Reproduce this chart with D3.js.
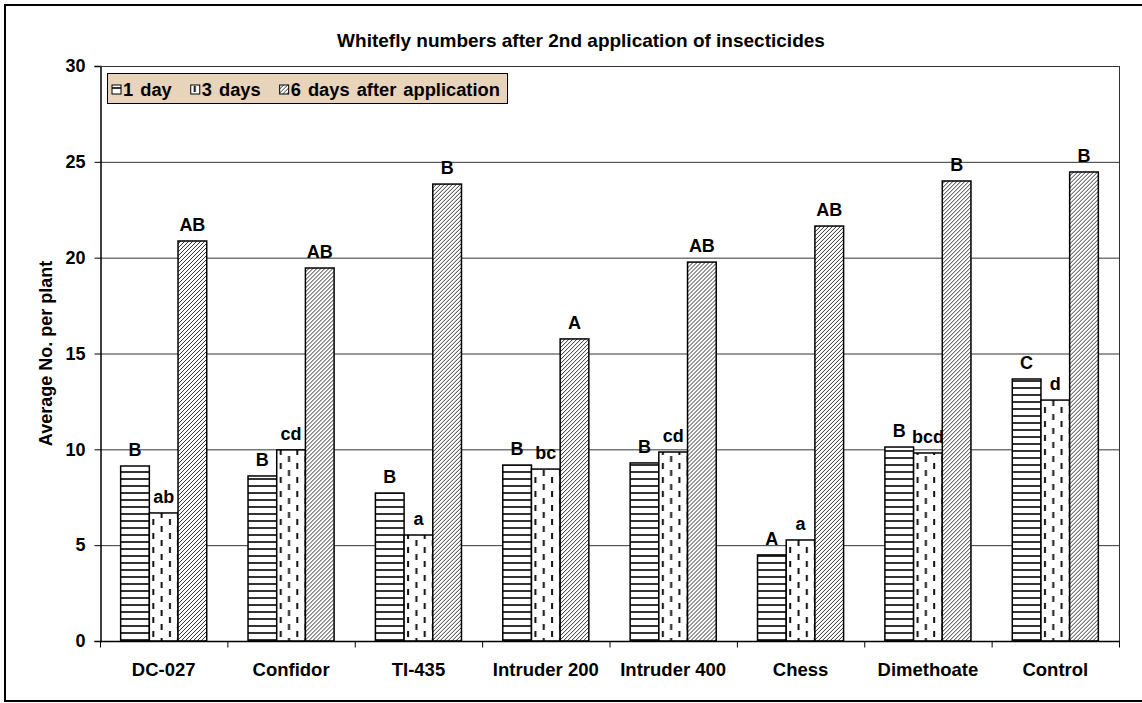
<!DOCTYPE html>
<html>
<head>
<meta charset="utf-8">
<script src="https://cdn.jsdelivr.net/npm/d3@7"></script>
<style>
  body { margin: 0; background: #fff; }
  text { font-family: "Liberation Sans", Arial, sans-serif; font-weight: bold; fill: #000; }
</style>
</head>
<body>
<div id="chart"></div>
<script>
const categories = ["DC-027", "Confidor", "TI-435", "Intruder 200", "Intruder 400", "Chess", "Dimethoate", "Control"];
const seriesNames = ["1 day", "3 days", "6 days after application"];
const day1 = [9.13, 8.61, 7.72, 9.18, 9.29, 4.49, 10.12, 13.67];
const day3 = [6.68, 9.97, 5.53, 8.97, 9.86, 5.27, 9.81, 12.57];
const day6 = [20.87, 19.46, 23.84, 15.76, 19.77, 21.65, 24.0, 24.47];
const letters1 = ["B", "B", "B", "B", "B", "A", "B", "C"];
const letters3 = ["ab", "cd", "a", "bc", "cd", "a", "bcd", "d"];
const letters6 = ["AB", "AB", "B", "A", "AB", "AB", "B", "B"];
const yTicks = [0, 5, 10, 15, 20, 25, 30];

const W = 1142, H = 703;
const plot = {left: 100, right: 1119, top: 66, bottom: 641};

const svg = d3.select("#chart").append("svg")
    .attr("width", W)
    .attr("height", H);

// patterns
const defs = svg.append("defs");

const pH = defs.append("pattern")
    .attr("id", "pat0")
    .attr("patternUnits", "userSpaceOnUse")
    .attr("width", 8).attr("height", 7);
pH.append("rect").attr("width", 8).attr("height", 7).attr("fill", "#fff");
pH.append("rect").attr("y", 2).attr("width", 8).attr("height", 2).attr("fill", "#333");

const pD = defs.append("pattern")
    .attr("id", "pat1")
    .attr("patternUnits", "userSpaceOnUse")
    .attr("width", 16.6).attr("height", 14);
pD.append("rect").attr("width", 16.6).attr("height", 14).attr("fill", "#fff");
pD.append("rect").attr("x", 3).attr("y", 1).attr("width", 2).attr("height", 6).attr("fill", "#111");
pD.append("rect").attr("x", 11.3).attr("y", 8).attr("width", 2).attr("height", 6).attr("fill", "#111");

const pS = defs.append("pattern")
    .attr("id", "pat2")
    .attr("patternUnits", "userSpaceOnUse")
    .attr("width", 4).attr("height", 4);
pS.append("rect").attr("width", 4).attr("height", 4).attr("fill", "#fff");
pS.append("path")
    .attr("d", "M-1,1 l2,-2 M0,4 l4,-4 M3,5 l2,-2")
    .attr("stroke", "#333")
    .attr("stroke-width", 1);

// outer frame
svg.append("rect")
    .attr("x", 5).attr("y", 5)
    .attr("width", W + 10).attr("height", 696)
    .attr("fill", "none")
    .attr("stroke", "#000")
    .attr("stroke-width", 2);

// scales
const x = d3.scaleBand()
    .domain(categories)
    .range([plot.left, plot.right])
    .paddingInner(0).paddingOuter(0);

const x1 = d3.scaleBand()
    .domain(d3.range(3))
    .range([0, x.bandwidth()])
    .paddingInner(0)
    .paddingOuter(0.72);

const y = d3.scaleLinear()
    .domain([0, 30])
    .range([plot.bottom, plot.top]);

// grid lines
svg.append("g")
    .selectAll("line")
    .data(yTicks.filter(d => d > 0))
    .enter().append("line")
    .attr("x1", plot.left).attr("x2", plot.right)
    .attr("y1", d => y(d) + 0.5).attr("y2", d => y(d) + 0.5)
    .attr("stroke", "#333")
    .attr("stroke-width", 1);

// plot frame right side
svg.append("line")
    .attr("x1", plot.right + 0.5).attr("x2", plot.right + 0.5)
    .attr("y1", plot.top).attr("y2", plot.bottom)
    .attr("stroke", "#333");

// bars
const seriesVals = [day1, day3, day6];
const seriesLetters = [letters1, letters3, letters6];

const rows = [];
categories.forEach((c, i) => {
    seriesVals.forEach((vals, s) => {
        rows.push({cat: c, s: s, v: vals[i], label: seriesLetters[s][i]});
    });
});

const bar = svg.append("g").selectAll("g")
    .data(rows)
    .enter().append("g")
    .attr("transform", d => "translate(" + (x(d.cat) + x1(d.s)) + ",0)");

bar.append("rect")
    .attr("x", 0)
    .attr("y", d => y(d.v))
    .attr("width", x1.bandwidth())
    .attr("height", d => y(0) - y(d.v))
    .attr("fill", d => "url(#pat" + d.s + ")")
    .attr("stroke", "#000")
    .attr("stroke-width", 1.5);

bar.append("text")
    .attr("x", x1.bandwidth() / 2)
    .attr("y", d => y(d.v) - 10)
    .attr("text-anchor", "middle")
    .style("font-size", "18px")
    .text(d => d.label);

// x axis
const xAxis = svg.append("g")
    .attr("transform", "translate(0," + (plot.bottom + 0.5) + ")");
xAxis.append("line")
    .attr("x1", plot.left).attr("x2", plot.right + 1)
    .attr("stroke", "#000").attr("stroke-width", 1.5);
xAxis.selectAll(".tk")
    .data(categories.map(c => x(c)).concat([plot.right]))
    .enter().append("line")
    .attr("x1", d => d + 0.5).attr("x2", d => d + 0.5)
    .attr("y1", 0).attr("y2", 6)
    .attr("stroke", "#000");
xAxis.selectAll(".cat")
    .data(categories)
    .enter().append("text")
    .attr("x", d => x(d) + x.bandwidth() / 2)
    .attr("y", 34)
    .attr("text-anchor", "middle")
    .style("font-size", "18.5px")
    .text(d => d);

// y axis
const yAxis = svg.append("g")
    .attr("transform", "translate(" + (plot.left + 0.5) + ",0)")
    .call(d3.axisLeft(y).tickValues(yTicks).tickSize(6).tickPadding(9).tickFormat(d3.format("d")));
yAxis.select(".domain").attr("stroke", "#000").attr("stroke-width", 1.5);
yAxis.selectAll(".tick line").attr("stroke", "#000");
yAxis.selectAll(".tick text")
    .style("font-size", "18px")
    .style("font-family", "'Liberation Sans', Arial, sans-serif")
    .style("font-weight", "bold")
    .attr("fill", "#000");

// top frame line
svg.append("line")
    .attr("x1", plot.left).attr("x2", plot.right + 1)
    .attr("y1", plot.top + 0.5).attr("y2", plot.top + 0.5)
    .attr("stroke", "#333");

// titles
svg.append("text")
    .attr("x", 581)
    .attr("y", 47)
    .attr("text-anchor", "middle")
    .style("font-size", "19px")
    .text("Whitefly numbers after 2nd application of insecticides");

svg.append("text")
    .attr("transform", "translate(52," + ((plot.top + plot.bottom) / 2) + ") rotate(-90)")
    .attr("text-anchor", "middle")
    .style("font-size", "18px")
    .text("Average No. per plant");

// legend
const legend = svg.append("g");
legend.append("rect")
    .attr("x", 107.5).attr("y", 73.5)
    .attr("width", 400).attr("height", 30)
    .attr("fill", "#e8d3bb")
    .attr("stroke", "#000");

let lx = 112;
seriesNames.forEach((name, s) => {
    const item = legend.append("g").attr("transform", "translate(" + lx + ",85)");
    item.append("rect")
        .attr("width", 9).attr("height", 9)
        .attr("fill", "url(#pat" + s + ")")
        .attr("stroke", "#000");
    const t = item.append("text")
        .attr("x", 11)
        .attr("y", 11)
        .style("font-size", "18.3px")
        .style("word-spacing", "2px")
        .text(name);
    lx += 11 + t.node().getComputedTextLength() + 19;
});
</script>
</body>
</html>
